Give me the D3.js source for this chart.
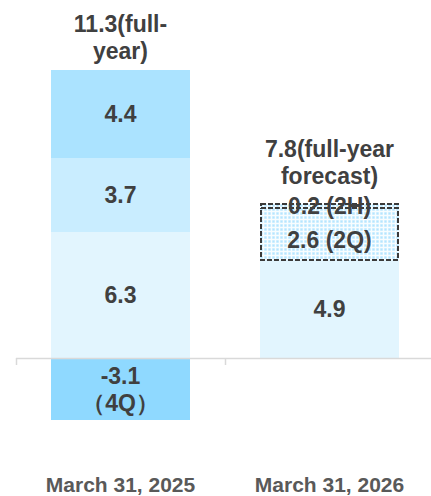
<!DOCTYPE html>
<html>
<head>
<meta charset="utf-8">
<script src="https://cdn.jsdelivr.net/npm/d3@7/dist/d3.min.js"></script>
<style>
  html, body { margin: 0; padding: 0; background: #ffffff; }
  svg { display: block; font-family: "Liberation Sans", Arial, sans-serif; font-weight: bold; }
</style>
</head>
<body>
<svg id="chart" width="431" height="496"></svg>
<script>
// Fiscal-year periods on the x axis
const categories = ["March 31, 2025", "March 31, 2026"];

// Stacked segments per period (bottom to top above zero, then below zero)
const fy2025Values = [6.3, 3.7, 4.4, -3.1];
const fy2025Labels = [["6.3"], ["3.7"], ["4.4"], ["-3.1", "（4Q）"]];
const fy2025Kinds  = ["q1", "q2", "q3", "q4"];

const fy2026Values = [4.9, 2.6, 0.2];
const fy2026Labels = [["4.9"], ["2.6 (2Q)"], ["0.2 (2H)"]];
const fy2026Kinds  = ["h1", "forecast", "forecast"];

// Full-year totals shown above each bar
const totalLabels = [["11.3(full-", "year)"], ["7.8(full-year", "forecast)"]];

const fills = {
  q1: "#e2f5fe",
  q2: "#c9edff",
  q3: "#abe3ff",
  q4: "#8fd9ff",
  h1: "#e2f5fe",
  forecast: "url(#dots)"
};

const svg = d3.select("#chart");

// Dotted fill for forecast segments
const defs = svg.append("defs");
const pat = defs.append("pattern")
  .attr("id", "dots").attr("patternUnits", "userSpaceOnUse")
  .attr("width", 4).attr("height", 4);
pat.append("rect").attr("width", 4).attr("height", 4).attr("fill", "#f8fdff");
pat.append("rect").attr("x", 0).attr("y", 0).attr("width", 3).attr("height", 3).attr("fill", "#e2f5ff");
pat.append("rect").attr("x", 0.5).attr("y", 0.5).attr("width", 2).attr("height", 2).attr("fill", "#b5e5ff");

const x = d3.scaleBand()
  .domain(categories)
  .range([16, 434])
  .paddingInner(0.335)
  .paddingOuter(0.1675);

const y = d3.scaleLinear().domain([-5, 15]).range([458, 58]);

// Build stacked segments
function stack(values, labels, kinds) {
  let pos = 0, neg = 0;
  return values.map((v, i) => {
    let y0, y1;
    if (v >= 0) { y0 = pos; y1 = pos + v; pos = y1; }
    else { y0 = neg; y1 = neg + v; neg = y1; }
    return { value: v, y0, y1, label: labels[i], kind: kinds[i] };
  });
}

const series = [
  { cat: categories[0], segs: stack(fy2025Values, fy2025Labels, fy2025Kinds), total: totalLabels[0], gap: 11 },
  { cat: categories[1], segs: stack(fy2026Values, fy2026Labels, fy2026Kinds), total: totalLabels[1], gap: 20 }
];

const lineH = 27;
const textColor = "#404040";
const labelSize = 23;

series.forEach(s => {
  const g = svg.append("g");
  const bx = x(s.cat), bw = x.bandwidth();

  g.selectAll("rect.seg").data(s.segs).join("rect")
    .attr("class", "seg")
    .attr("x", bx)
    .attr("width", bw)
    .attr("y", d => y(Math.max(d.y0, d.y1)))
    .attr("height", d => Math.abs(y(d.y0) - y(d.y1)))
    .attr("fill", d => fills[d.kind]);

  // Dashed outline around forecast segments
  g.selectAll("rect.outline").data(s.segs.filter(d => d.kind === "forecast")).join("rect")
    .attr("class", "outline")
    .attr("x", bx + 1)
    .attr("width", bw - 2)
    .attr("y", d => y(Math.max(d.y0, d.y1)))
    .attr("height", d => Math.abs(y(d.y0) - y(d.y1)))
    .attr("fill", "none")
    .attr("stroke", "#3a3a3a")
    .attr("stroke-width", 2)
    .attr("stroke-dasharray", "5,2");

  // Segment value labels
  s.segs.forEach(d => {
    const cy = (y(d.y0) + y(d.y1)) / 2 + (d.kind === "forecast" && d.value > 1 ? 6 : 0);
    const n = d.label.length;
    const t = g.append("text")
      .attr("text-anchor", "middle")
      .attr("font-size", labelSize)
      .attr("fill", textColor);
    d.label.forEach((line, j) => {
      t.append("tspan")
        .attr("x", bx + bw / 2)
        .attr("y", cy + 8 + (j - (n - 1) / 2) * lineH)
        .text(line);
    });
  });

  // Total label above the bar
  const top = y(d3.max(s.segs, d => Math.max(d.y0, d.y1)));
  const tt = g.append("text")
    .attr("text-anchor", "middle")
    .attr("font-size", labelSize)
    .attr("fill", textColor);
  s.total.forEach((line, j) => {
    tt.append("tspan")
      .attr("x", bx + bw / 2)
      .attr("y", top - s.gap - (s.total.length - 1 - j) * lineH)
      .text(line);
  });
});

// Zero baseline with category boundary ticks
const axisG = svg.append("g");
axisG.append("line")
  .attr("x1", 16).attr("x2", 431)
  .attr("y1", y(0) + 0.5).attr("y2", y(0) + 0.5)
  .attr("stroke", "#d9d9d9").attr("stroke-width", 1.5);
categories.forEach(c => {
  const tx = Math.round(x(c) - x.step() * x.paddingInner() / 2);
  axisG.append("line")
    .attr("x1", tx + 0.5).attr("x2", tx + 0.5)
    .attr("y1", y(0)).attr("y2", y(0) + 7)
    .attr("stroke", "#d9d9d9").attr("stroke-width", 1.5);
});

// Category labels
svg.append("g").selectAll("text").data(categories).join("text")
  .attr("x", d => x(d) + x.bandwidth() / 2)
  .attr("y", 492)
  .attr("text-anchor", "middle")
  .attr("font-size", 21)
  .attr("fill", "#595959")
  .text(d => d);
</script>
</body>
</html>
